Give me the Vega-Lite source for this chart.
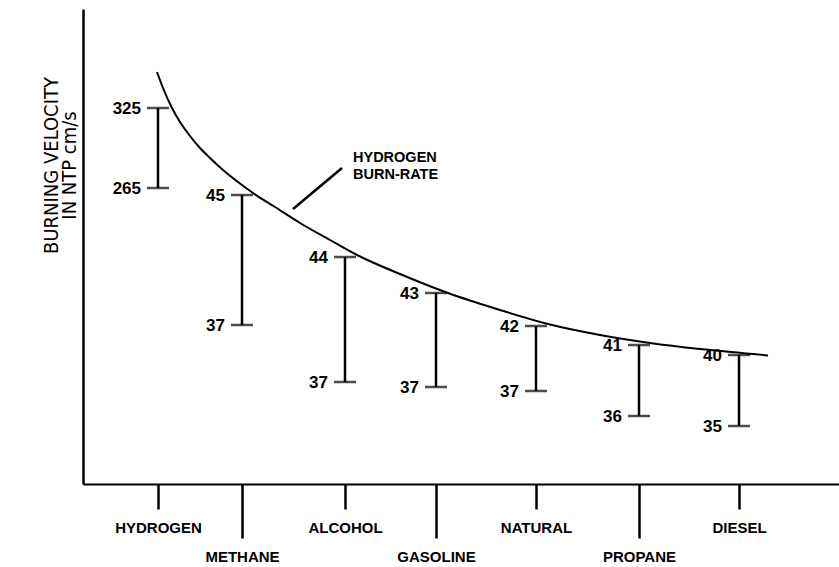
{
  "$schema": "https://vega.github.io/schema/vega-lite/v6.json",
  "width": 756,
  "height": 475,
  "autosize": {"type": "none"},
  "padding": {"left": 83, "top": 9, "right": 0, "bottom": 83},
  "background": "white",
  "config": {"view": {"stroke": null}},
  "datasets": {
    "fuels": [
      {"fuel": "HYDROGEN", "x": 75, "top": 376, "bottom": 296, "top_label": "325", "bottom_label": "265"},
      {"fuel": "METHANE", "x": 159, "top": 289, "bottom": 159, "top_label": "45", "bottom_label": "37"},
      {"fuel": "ALCOHOL", "x": 262, "top": 227, "bottom": 102, "top_label": "44", "bottom_label": "37"},
      {"fuel": "GASOLINE", "x": 353, "top": 191, "bottom": 97, "top_label": "43", "bottom_label": "37"},
      {"fuel": "NATURAL", "x": 453, "top": 158, "bottom": 93, "top_label": "42", "bottom_label": "37"},
      {"fuel": "PROPANE", "x": 556, "top": 139, "bottom": 68, "top_label": "41", "bottom_label": "36"},
      {"fuel": "DIESEL", "x": 656, "top": 129, "bottom": 58, "top_label": "40", "bottom_label": "35"}
    ],
    "curve": [
      {"x": 74, "y": 412},
      {"x": 80, "y": 396},
      {"x": 89, "y": 376},
      {"x": 97, "y": 362},
      {"x": 107, "y": 348},
      {"x": 117, "y": 336},
      {"x": 127, "y": 326},
      {"x": 140, "y": 314},
      {"x": 155, "y": 302},
      {"x": 170, "y": 291},
      {"x": 192, "y": 277},
      {"x": 217, "y": 261},
      {"x": 247, "y": 244},
      {"x": 274, "y": 229},
      {"x": 317, "y": 210},
      {"x": 365, "y": 191},
      {"x": 417, "y": 174},
      {"x": 465, "y": 160},
      {"x": 517, "y": 149},
      {"x": 567, "y": 141},
      {"x": 617, "y": 135},
      {"x": 670, "y": 130},
      {"x": 685, "y": 128.5}
    ],
    "pointer": [
      {"x": 210, "y": 275, "x2": 259, "y2": 316, "text": "HYDROGEN\nBURN-RATE", "tx": 270, "ty": 326}
    ]
  },
  "layer": [
    {
      "data": {"name": "fuels"},
      "mark": {"type": "rule", "strokeWidth": 2.5, "color": "black"},
      "encoding": {
        "x": {
          "field": "x", "type": "quantitative",
          "scale": {"domain": [0, 756], "nice": false, "zero": false},
          "axis": {
            "values": [75, 159, 262, 353, 453, 556, 656],
            "labelExpr": "['HYDROGEN','METHANE','ALCOHOL','GASOLINE','NATURAL','PROPANE','DIESEL'][round(datum.index*6)]",
            "title": null,
            "grid": false,
            "domainColor": "black",
            "domainWidth": 2,
            "tickColor": "black",
            "tickWidth": 2.5,
            "tickSize": {"condition": {"test": "round(datum.index*6) % 2 == 1", "value": 54}, "value": 25},
            "labelPadding": 11,
            "labelFont": "Liberation Sans",
            "labelFontWeight": "bold",
            "labelFontSize": 15,
            "labelColor": "black",
            "labelBaseline": "top",
            "labelAngle": 0,
            "labelOverlap": false,
            "labelFlush": false
          }
        },
        "y": {
          "field": "top", "type": "quantitative",
          "scale": {"domain": [0, 475], "nice": false, "zero": false},
          "axis": {
            "title": ["BURNING VELOCITY", "IN NTP cm/s"],
            "grid": false,
            "ticks": false,
            "labels": false,
            "domainColor": "black",
            "domainWidth": 2.5,
            "titleFont": "Liberation Sans Narrow, DejaVu Sans Condensed, Liberation Sans",
            "titleFontSize": 20,
            "titleFontWeight": "normal",
            "titleColor": "black",
            "titleAngle": -90,
            "titleAlign": "center",
            "titleBaseline": "middle",
            "titleLineHeight": 18,
            "titleX": -32,
            "titleY": 156
          }
        },
        "y2": {"field": "bottom"}
      }
    },
    {
      "data": {"name": "fuels"},
      "mark": {"type": "tick", "orient": "horizontal", "size": 22, "thickness": 2.5, "color": "black"},
      "encoding": {
        "x": {"field": "x", "type": "quantitative", "scale": {"domain": [0, 756], "nice": false, "zero": false}},
        "y": {"field": "top", "type": "quantitative", "scale": {"domain": [0, 475], "nice": false, "zero": false}}
      }
    },
    {
      "data": {"name": "fuels"},
      "mark": {"type": "tick", "orient": "horizontal", "size": 22, "thickness": 2.5, "color": "black"},
      "encoding": {
        "x": {"field": "x", "type": "quantitative", "scale": {"domain": [0, 756], "nice": false, "zero": false}},
        "y": {"field": "bottom", "type": "quantitative", "scale": {"domain": [0, 475], "nice": false, "zero": false}}
      }
    },
    {
      "data": {"name": "fuels"},
      "mark": {"type": "text", "align": "right", "baseline": "middle", "dx": -17, "dy": 1, "font": "Liberation Sans", "fontWeight": "bold", "fontSize": 17, "color": "black"},
      "encoding": {
        "x": {"field": "x", "type": "quantitative", "scale": {"domain": [0, 756], "nice": false, "zero": false}},
        "y": {"field": "top", "type": "quantitative", "scale": {"domain": [0, 475], "nice": false, "zero": false}},
        "text": {"field": "top_label", "type": "nominal"}
      }
    },
    {
      "data": {"name": "fuels"},
      "mark": {"type": "text", "align": "right", "baseline": "middle", "dx": -17, "dy": 1, "font": "Liberation Sans", "fontWeight": "bold", "fontSize": 17, "color": "black"},
      "encoding": {
        "x": {"field": "x", "type": "quantitative", "scale": {"domain": [0, 756], "nice": false, "zero": false}},
        "y": {"field": "bottom", "type": "quantitative", "scale": {"domain": [0, 475], "nice": false, "zero": false}},
        "text": {"field": "bottom_label", "type": "nominal"}
      }
    },
    {
      "data": {"name": "curve"},
      "mark": {"type": "line", "interpolate": "monotone", "color": "black", "strokeWidth": 2},
      "encoding": {
        "x": {"field": "x", "type": "quantitative", "scale": {"domain": [0, 756], "nice": false, "zero": false}},
        "y": {"field": "y", "type": "quantitative", "scale": {"domain": [0, 475], "nice": false, "zero": false}}
      }
    },
    {
      "data": {"name": "pointer"},
      "mark": {"type": "rule", "color": "black", "strokeWidth": 2.5},
      "encoding": {
        "x": {"field": "x", "type": "quantitative", "scale": {"domain": [0, 756], "nice": false, "zero": false}},
        "y": {"field": "y", "type": "quantitative", "scale": {"domain": [0, 475], "nice": false, "zero": false}},
        "x2": {"field": "x2"},
        "y2": {"field": "y2"}
      }
    },
    {
      "data": {"name": "pointer"},
      "mark": {"type": "text", "align": "left", "baseline": "middle", "lineBreak": "\n", "lineHeight": 17, "font": "Liberation Sans", "fontWeight": "bold", "fontSize": 14.5, "color": "black"},
      "encoding": {
        "x": {"field": "tx", "type": "quantitative", "scale": {"domain": [0, 756], "nice": false, "zero": false}},
        "y": {"field": "ty", "type": "quantitative", "scale": {"domain": [0, 475], "nice": false, "zero": false}},
        "text": {"field": "text", "type": "nominal"}
      }
    }
  ]
}
